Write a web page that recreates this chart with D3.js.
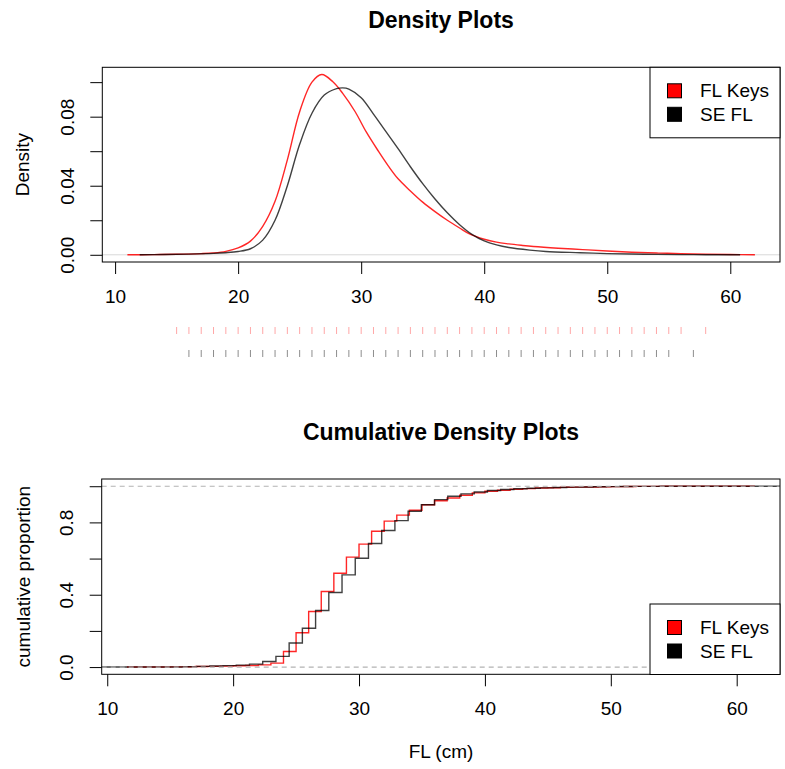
<!DOCTYPE html>
<html>
<head>
<meta charset="utf-8">
<script src="https://cdn.jsdelivr.net/npm/d3@7"></script>
<style>
  body { margin: 0; background: #fff; }
  .canvas { width: 785px; height: 769px; }
  text { font-family: "Liberation Sans", Arial, Helvetica, sans-serif; fill: #000; }
</style>
</head>
<body>
<div class="canvas"></div>
<script>
// density curves (x in cm, density)
const keysDensX = [11, 13, 15, 17, 18, 19, 20, 21, 22, 23, 24, 25, 26, 26.8, 27.7, 28.5, 29.5, 30.4, 31.4, 32.2, 33, 34, 35, 36, 37, 38, 38.8, 40, 41, 42, 43, 44, 46, 48, 50, 52, 54, 56, 58, 60, 62]
const keysDensY = [0, 0.0001, 0.0003, 0.0007, 0.0011, 0.002, 0.004, 0.0079, 0.0165, 0.031, 0.055, 0.0829, 0.1, 0.1044, 0.1002, 0.0935, 0.083, 0.0713, 0.06, 0.0515, 0.044, 0.037, 0.0305, 0.025, 0.02, 0.0155, 0.0121, 0.009, 0.0073, 0.0063, 0.0055, 0.0048, 0.0038, 0.003, 0.0022, 0.0015, 0.001, 0.0007, 0.0004, 0.0002, 0]
const seDensX = [12, 14, 16, 18, 19, 20, 21, 22, 23, 24, 25, 26, 27, 28, 28.5, 29, 30, 31, 32, 33, 34, 35, 36, 37, 38, 39, 40, 41, 42, 43.7, 45, 47.8, 50, 53, 56, 58, 60.8]
const seDensY = [0, 0.0002, 0.0004, 0.0008, 0.0012, 0.0019, 0.0035, 0.0085, 0.02, 0.04, 0.064, 0.082, 0.0925, 0.0962, 0.0967, 0.096, 0.091, 0.0815, 0.0715, 0.0615, 0.051, 0.0412, 0.0323, 0.0243, 0.0174, 0.0118, 0.008, 0.0057, 0.0042, 0.0027, 0.0019, 0.0012, 0.0007, 0.0003, 0.0001, 0.00005, 0]

// rug values (cm)
const keysRug = [15, 16, 17, 18, 19, 20, 21, 22, 23, 24, 25, 26, 27, 28, 29, 30, 31, 32, 33, 34, 35, 36, 37, 38, 39, 40, 41, 42, 43, 44, 45, 46, 47, 48, 49, 50, 51, 52, 53, 54, 55, 56, 58]
const seRug = [16, 17, 18, 19, 20, 21, 22, 23, 24, 25, 26, 27, 28, 29, 30, 31, 32, 33, 34, 35, 36, 37, 38, 39, 40, 41, 42, 43, 44, 45, 46, 47, 48, 49, 50, 51, 52, 53, 54, 55, 57]

// ecdf steps
const keysEcdfX = [15, 16, 17, 18, 19, 20, 21, 22, 23, 24, 25, 26, 27, 28, 29, 30, 31, 32, 33, 34, 35, 36, 37, 38, 39, 40, 41, 42, 43, 44, 45, 46, 47, 48, 49, 50, 51, 52, 53, 54, 55, 56, 58]
const keysEcdfP = [0.001, 0.002, 0.003, 0.004, 0.005, 0.007, 0.009, 0.012, 0.022, 0.086, 0.19, 0.307, 0.418, 0.519, 0.608, 0.68, 0.751, 0.807, 0.84, 0.867, 0.898, 0.92, 0.935, 0.95, 0.963, 0.972, 0.978, 0.983, 0.987, 0.99, 0.992, 0.994, 0.995, 0.996, 0.997, 0.998, 0.9985, 0.999, 0.9993, 0.9995, 0.9997, 0.9999, 1]
const seEcdfX = [16.05, 17.1, 18.15, 19.2, 20.25, 21.3, 22.35, 23.4, 24.45, 25.5, 26.55, 27.6, 28.65, 29.7, 30.75, 31.8, 32.85, 33.9, 34.95, 36, 37.05, 38.1, 39.15, 40.2, 41.25, 42.3, 43.35, 44.4, 45.45, 46.5, 47.55, 48.6, 49.65, 50.7, 51.75, 52.8, 53.85, 54.9, 55.95, 57]
const seEcdfP = [0.002, 0.004, 0.006, 0.008, 0.011, 0.016, 0.031, 0.059, 0.133, 0.215, 0.313, 0.412, 0.51, 0.602, 0.683, 0.755, 0.81, 0.862, 0.898, 0.926, 0.945, 0.958, 0.968, 0.976, 0.982, 0.986, 0.989, 0.991, 0.993, 0.995, 0.996, 0.997, 0.998, 0.9985, 0.999, 0.9993, 0.9995, 0.9997, 0.9999, 1]

const xTicks = [10, 20, 30, 40, 50, 60]
const densTicks = [0, 0.02, 0.04, 0.06, 0.08, 0.1]
const densLabels = ['0.00', '', '0.04', '', '0.08', '']
const propTicks = [0, 0.2, 0.4, 0.6, 0.8, 1]
const propLabels = ['0.0', '', '0.4', '', '0.8', '']
const legendNames = ['FL Keys', 'SE FL']
const legendColors = ['#ff0000', '#000000']

const svg = d3.select('.canvas').append('svg')
    .attr('width', 785)
    .attr('height', 769)

const FS = 19
const TFS = 23

// ---------- top panel ----------
const x1 = d3.scaleLinear().domain([8.96, 64.04]).range([102.3, 780])
const y1 = d3.scaleLinear().domain([-0.00418, 0.1086]).range([262, 67.3])

svg.append('line')
    .attr('x1', x1.range()[0]).attr('x2', x1.range()[1])
    .attr('y1', y1(0)).attr('y2', y1(0))
    .attr('stroke', '#d9d9d9').attr('stroke-width', 1)

const densLine = d3.line().curve(d3.curveCatmullRom)

svg.append('path')
    .attr('d', densLine(keysDensX.map((v, i) => [x1(v), y1(keysDensY[i])])))
    .attr('fill', 'none').attr('stroke', '#ff0000').attr('stroke-opacity', 0.85).attr('stroke-width', 1.4)
svg.append('path')
    .attr('d', densLine(seDensX.map((v, i) => [x1(v), y1(seDensY[i])])))
    .attr('fill', 'none').attr('stroke', '#000').attr('stroke-opacity', 0.75).attr('stroke-width', 1.4)

let ax = svg.append('g').attr('transform', 'translate(0,262)')
    .call(d3.axisBottom(x1).tickValues(xTicks).tickSize(12).tickSizeOuter(0))
ax.select('.domain').remove()
ax.selectAll('text').attr('font-size', FS).attr('y', 34.5).attr('dy', '0.35em')
let ay = svg.append('g').attr('transform', 'translate(102.3,0)')
    .call(d3.axisLeft(y1).tickValues(densTicks).tickSize(12).tickSizeOuter(0).tickFormat((d, i) => densLabels[i]))
ay.select('.domain').remove()
ay.selectAll('text').attr('font-size', FS)
    .attr('x', -35).attr('y', 0).attr('dy', '0.35em').attr('text-anchor', 'middle')
    .attr('transform', 'rotate(-90,-35,0)')

svg.append('rect')
    .attr('x', 102.3).attr('y', 67.3).attr('width', 780 - 102.3).attr('height', 262 - 67.3)
    .attr('fill', 'none').attr('stroke', '#000').attr('stroke-width', 1)

svg.append('text').text('Density Plots')
    .attr('x', 441).attr('y', 28).attr('text-anchor', 'middle')
    .attr('font-size', TFS).attr('font-weight', 'bold')
svg.append('text').text('Density')
    .attr('transform', 'translate(22,' + (67.3 + 262) / 2 + ') rotate(-90)')
    .attr('text-anchor', 'middle').attr('dy', '0.35em').attr('font-size', FS)

// rugs
svg.selectAll('.rugK').data(keysRug).enter().append('line')
    .attr('x1', d => x1(d)).attr('x2', d => x1(d))
    .attr('y1', 327).attr('y2', 334)
    .attr('stroke', '#ff0000').attr('stroke-opacity', 0.35).attr('stroke-width', 1)
svg.selectAll('.rugS').data(seRug).enter().append('line')
    .attr('x1', d => x1(d)).attr('x2', d => x1(d))
    .attr('y1', 350).attr('y2', 357)
    .attr('stroke', '#000').attr('stroke-opacity', 0.45).attr('stroke-width', 1)

// ---------- bottom panel ----------
const x2 = d3.scaleLinear().domain([9.56, 63.44]).range([101.7, 780])
const y2 = d3.scaleLinear().domain([-0.04, 1.04]).range([674.3, 479])

const stepLine = d3.line().curve(d3.curveStepAfter)
function ecdfPts(xs, ps, lo, hi) {
    let pts = [[x2(lo), y2(0)]]
    xs.forEach((v, i) => pts.push([x2(v), y2(ps[i])]))
    pts.push([x2(hi), y2(1)])
    return pts
}
svg.append('path')
    .attr('d', stepLine(ecdfPts(keysEcdfX, keysEcdfP, 11.56, 61.44)))
    .attr('fill', 'none').attr('stroke', '#ff0000').attr('stroke-opacity', 0.85).attr('stroke-width', 1.4)
svg.append('path')
    .attr('d', stepLine(ecdfPts(seEcdfX, seEcdfP, 9.56, 63.44)))
    .attr('fill', 'none').attr('stroke', '#000').attr('stroke-opacity', 0.75).attr('stroke-width', 1.4)

svg.selectAll('.hline').data([0, 1]).enter().append('line')
    .attr('x1', 101.7).attr('x2', 780)
    .attr('y1', d => y2(d)).attr('y2', d => y2(d))
    .attr('stroke', '#b3b3b3').attr('stroke-width', 1.2).attr('stroke-dasharray', '5,4')

let bx = svg.append('g').attr('transform', 'translate(0,674.3)')
    .call(d3.axisBottom(x2).tickValues(xTicks).tickSize(12).tickSizeOuter(0))
bx.select('.domain').remove()
bx.selectAll('text').attr('font-size', FS).attr('y', 34.5).attr('dy', '0.35em')
let by = svg.append('g').attr('transform', 'translate(101.7,0)')
    .call(d3.axisLeft(y2).tickValues(propTicks).tickSize(12).tickSizeOuter(0).tickFormat((d, i) => propLabels[i]))
by.select('.domain').remove()
by.selectAll('text').attr('font-size', FS)
    .attr('x', -35).attr('y', 0).attr('dy', '0.35em').attr('text-anchor', 'middle')
    .attr('transform', 'rotate(-90,-35,0)')

svg.append('rect')
    .attr('x', 101.7).attr('y', 479).attr('width', 780 - 101.7).attr('height', 674.3 - 479)
    .attr('fill', 'none').attr('stroke', '#000').attr('stroke-width', 1)

svg.append('text').text('Cumulative Density Plots')
    .attr('x', 441).attr('y', 440).attr('text-anchor', 'middle')
    .attr('font-size', TFS).attr('font-weight', 'bold')
svg.append('text').text('cumulative proportion')
    .attr('transform', 'translate(23,' + (479 + 674.3) / 2 + ') rotate(-90)')
    .attr('text-anchor', 'middle').attr('dy', '0.35em').attr('font-size', FS)
svg.append('text').text('FL (cm)')
    .attr('x', 441).attr('y', 751).attr('text-anchor', 'middle').attr('dy', '0.35em')
    .attr('font-size', FS)

// ---------- legends ----------
function legend(top) {
    let g = svg.append('g').attr('transform', 'translate(650,' + top + ')')
    g.append('rect').attr('width', 130).attr('height', 70.5)
        .attr('fill', '#fff').attr('stroke', '#000').attr('stroke-width', 1)
    legendNames.forEach((n, i) => {
        let cy = 23.5 + i * 23.5
        g.append('rect').attr('x', 17.5).attr('y', cy - 7).attr('width', 14).attr('height', 14)
            .attr('fill', legendColors[i]).attr('stroke', '#000').attr('stroke-width', 1)
        g.append('text').text(n).attr('x', 50).attr('y', cy).attr('dy', '0.35em').attr('font-size', FS)
    })
}
legend(67.3)
legend(604)
</script>
</body>
</html>
